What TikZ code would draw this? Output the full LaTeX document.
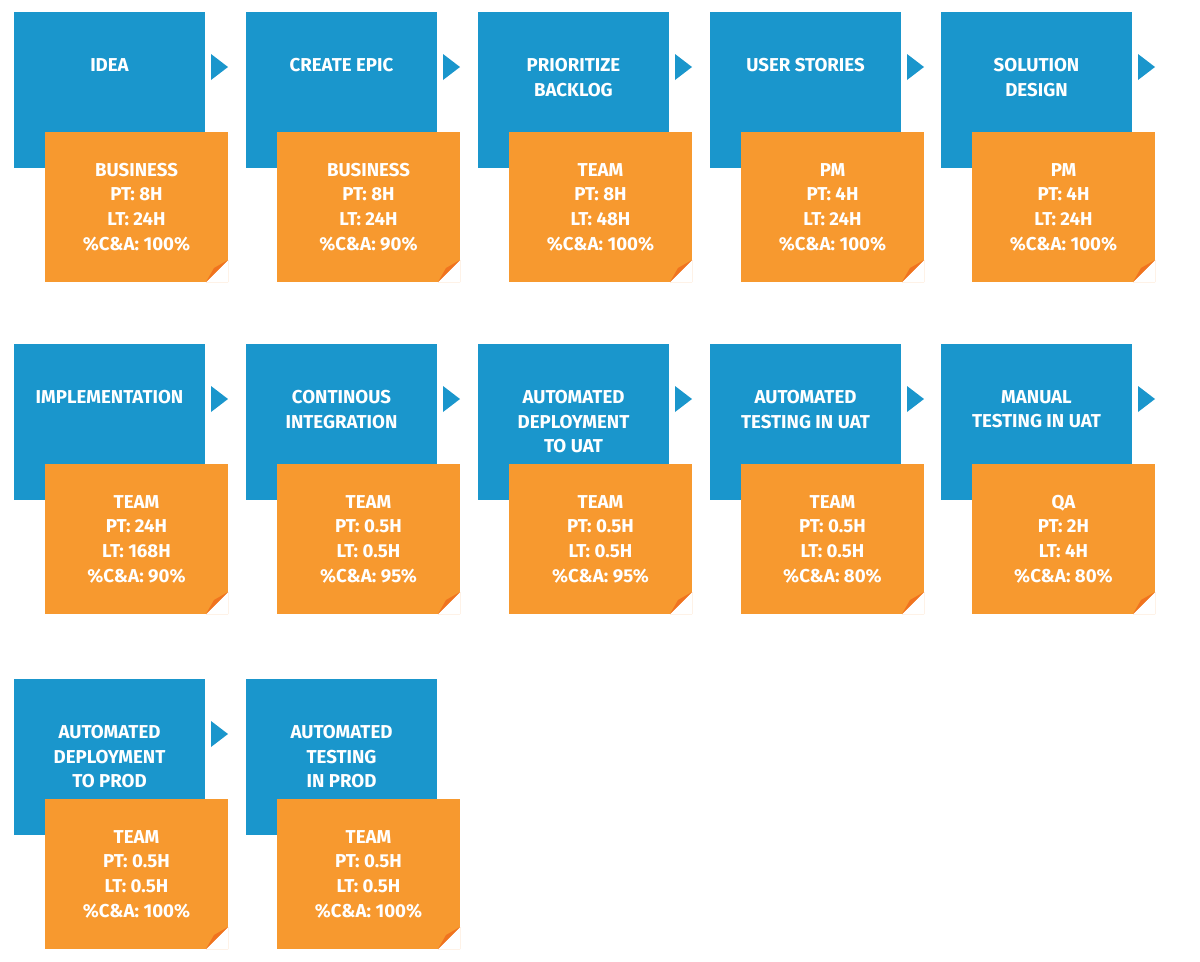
\documentclass[tikz,border=0pt]{standalone}
\usepackage{fontspec}
\setmainfont{Fira Sans}
\definecolor{bblue}{HTML}{1A96CC}
\definecolor{oor}{HTML}{F7992F}
\definecolor{fold}{HTML}{F0731F}
\begin{document}
\begin{tikzpicture}[x=1pt,y=-1pt,
  btxt/.style={anchor=north,text=white,font=\fontsize{14}{18.5}\selectfont\bfseries,align=center,inner sep=0pt},
  otxt/.style={anchor=center,text=white,font=\fontsize{14}{18.5}\selectfont\bfseries,align=center,inner sep=0pt}]
\useasboundingbox (0,0) rectangle (900,720.75);
\newcommand{\stg}[6]{%
 \begin{scope}[shift={(#2*0.75,#3*0.75)},scale=0.75]
 \fill[bblue] (0,0) rectangle (191,156);
 \ifnum#6=1 \fill[bblue] (197,42) -- (214,55) -- (197,68) -- cycle;\fi
 \fill[oor] (31,120) rectangle (214,270) ;
 \fill[oor!60!fold] (214,248) -- (192,270) -- (214,270) -- cycle;
 \fill[white] (214,248) -- (192,270) -- (214,270) -- cycle;
 \fill[fold] (214,248) -- (192,270) -- (200,256) -- cycle;
 \node[btxt] (#1b) at (95.5,46) {#4};
 \node[otxt] (#1o) at (122.5,195) {#5};
 \end{scope}}
\stg{a}{14}{12}{IDEA}{BUSINESS\\PT: 8H\\LT: 24H\\\%C\&A: 100\%}{1}
\stg{b}{246}{12}{CREATE EPIC}{BUSINESS\\PT: 8H\\LT: 24H\\\%C\&A: 90\%}{1}
\stg{c}{478}{12}{PRIORITIZE\\BACKLOG}{TEAM\\PT: 8H\\LT: 48H\\\%C\&A: 100\%}{1}
\stg{d}{710}{12}{USER STORIES}{PM\\PT: 4H\\LT: 24H\\\%C\&A: 100\%}{1}
\stg{e}{941}{12}{SOLUTION\\DESIGN}{PM\\PT: 4H\\LT: 24H\\\%C\&A: 100\%}{1}
\stg{f}{14}{344}{IMPLEMENTATION}{TEAM\\PT: 24H\\LT: 168H\\\%C\&A: 90\%}{1}
\stg{g}{246}{344}{CONTINOUS\\INTEGRATION}{TEAM\\PT: 0.5H\\LT: 0.5H\\\%C\&A: 95\%}{1}
\stg{h}{478}{344}{AUTOMATED\\DEPLOYMENT\\TO UAT}{TEAM\\PT: 0.5H\\LT: 0.5H\\\%C\&A: 95\%}{1}
\stg{i}{710}{344}{AUTOMATED\\TESTING IN UAT}{TEAM\\PT: 0.5H\\LT: 0.5H\\\%C\&A: 80\%}{1}
\stg{j}{941}{344}{MANUAL\\TESTING IN UAT}{QA\\PT: 2H\\LT: 4H\\\%C\&A: 80\%}{1}
\stg{k}{14}{679}{AUTOMATED\\DEPLOYMENT\\TO PROD}{TEAM\\PT: 0.5H\\LT: 0.5H\\\%C\&A: 100\%}{1}
\stg{l}{246}{679}{AUTOMATED\\TESTING\\IN PROD}{TEAM\\PT: 0.5H\\LT: 0.5H\\\%C\&A: 100\%}{0}
\end{tikzpicture}
\end{document}
